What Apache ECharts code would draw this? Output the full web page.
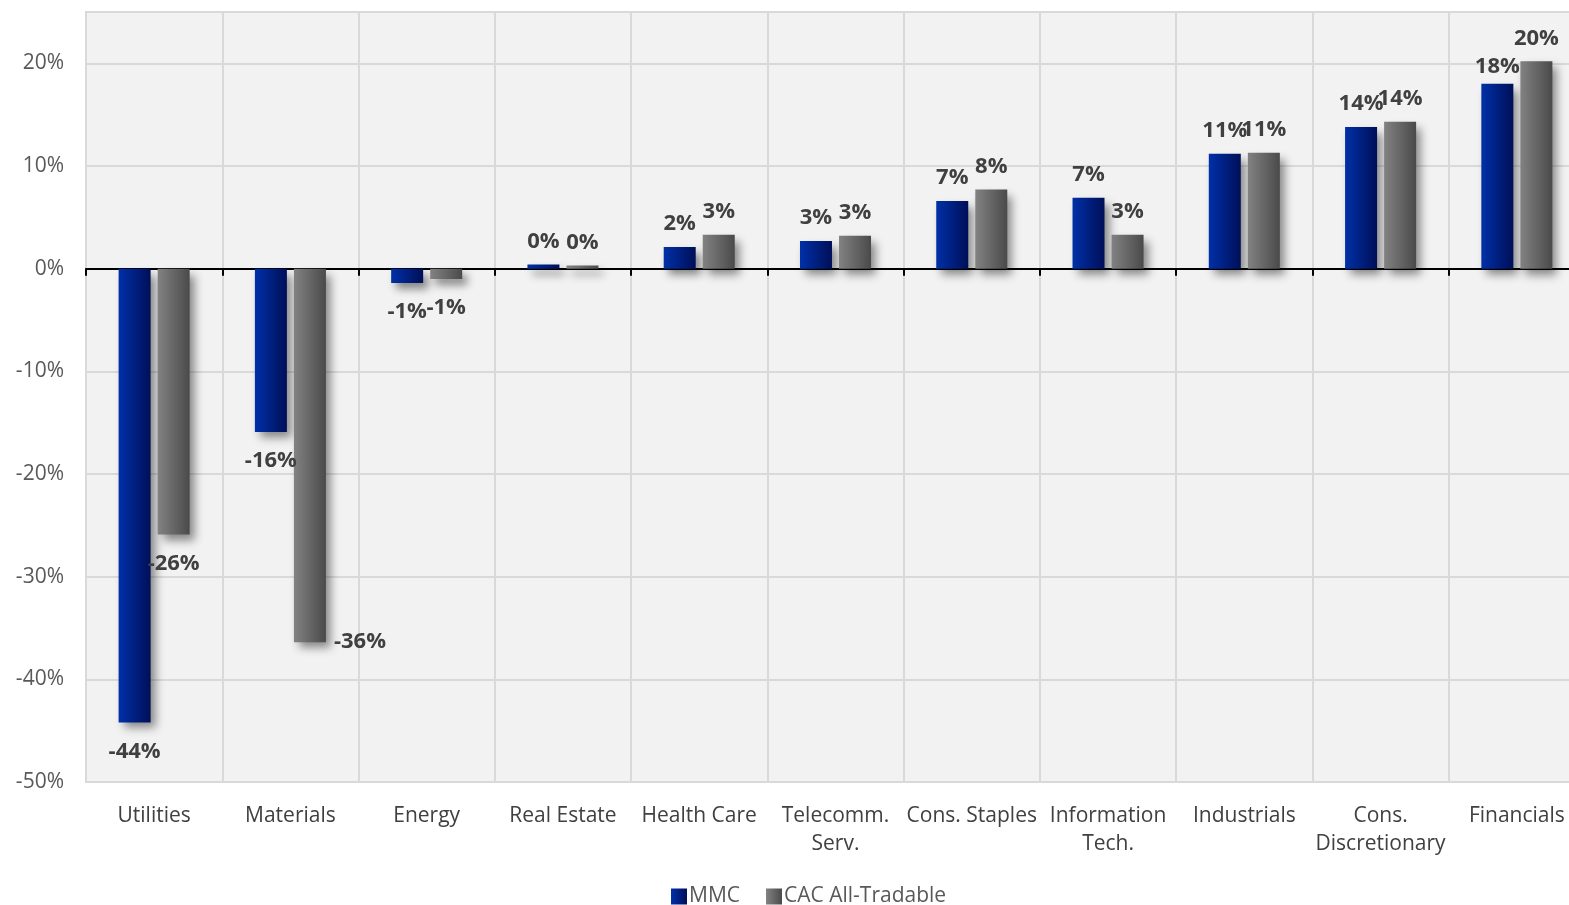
<!DOCTYPE html>
<html>
<head>
<meta charset="utf-8">
<script src="https://cdn.jsdelivr.net/npm/echarts@6/dist/echarts.min.js"></script>
<style>
html,body{margin:0;padding:0;background:#fff;overflow:hidden;width:1569px;height:905px;}
#chart{width:1586px;height:905px;}
</style>
</head>
<body>
<div id="chart"></div>
<script>
const categories = ["Utilities","Materials","Energy","Real Estate","Health Care","Telecomm.\nServ.","Cons. Staples","Information\nTech.","Industrials","Cons.\nDiscretionary","Financials"];
const mmcValues = [-44.2,-15.9,-1.4,0.4,2.1,2.7,6.6,6.9,11.2,13.8,18.0];
const cacValues = [-25.9,-36.4,-1.0,0.3,3.3,3.2,7.7,3.3,11.3,14.3,20.2];
const seriesNames = ["MMC","CAC All-Tradable"];
const yTicks = {min:-50,max:25,interval:10};

const FONT = "'Open Sans', 'Noto Sans', sans-serif";
const chart = echarts.init(document.getElementById('chart'));

function labelFor(v){ return Math.round(v) + '%'; }
function makeData(arr, special){
  return arr.map((v,i)=>{
    const item = {value:v, label:{position: v<0?'bottom':'top', distance: v<0?18:12}};
    if (special && special[i]) Object.assign(item.label, special[i]);
    return item;
  });
}
const mmcGrad = new echarts.graphic.LinearGradient(0,0,1,0,[{offset:0,color:'#0030a8'},{offset:1,color:'#000f58'}]);
const cacGrad = new echarts.graphic.LinearGradient(0,0,1,0,[{offset:0,color:'#828282'},{offset:1,color:'#4a4a4a'}]);
const labelStyle = {show:true, fontFamily:FONT, fontWeight:'bold', fontSize:22, color:'#404040',
  formatter:p=>labelFor(p.value)};
const shadow = {shadowColor:'rgba(0,0,0,0.45)', shadowBlur:9, shadowOffsetX:5, shadowOffsetY:6};

chart.setOption({
  animation:false,
  backgroundColor:'#ffffff',
  textStyle:{fontFamily:FONT},
  grid:{left:86, right:1, top:12, bottom:123, show:true, backgroundColor:'#f2f2f2', borderColor:'#d9d9d9', borderWidth:2},
  legend:{
    left:666, top:881, itemWidth:16, itemHeight:16, itemGap:26,
    textStyle:{fontFamily:FONT, fontSize:21, color:'#595959', padding:[0,0,0,-3]},
    data:[{name:seriesNames[0], icon:'rect'},{name:seriesNames[1], icon:'rect'}]
  },
  xAxis:[
    {type:'category', data:categories, position:'bottom',
     axisLine:{show:false, onZero:false}, axisTick:{show:false},
     axisLabel:{fontFamily:FONT, fontSize:21, color:'#404040', margin:20, lineHeight:28, interval:0},
     splitLine:{show:true, interval:0, lineStyle:{color:'#d9d9d9', width:2}}},
    {type:'category', data:categories, position:'top',
     axisLine:{show:true, onZero:true, lineStyle:{color:'#000', width:2}},
     axisTick:{show:true, inside:true, length:7, interval:0, lineStyle:{color:'#000', width:2}},
     axisLabel:{show:false}, splitLine:{show:false}}
  ],
  yAxis:{type:'value', min:yTicks.min, max:yTicks.max, interval:yTicks.interval,
    axisLine:{show:false}, axisTick:{show:false},
    axisLabel:{fontFamily:FONT, fontSize:21, color:'#595959', margin:22, showMaxLabel:false, formatter:v=>v+'%'},
    splitLine:{lineStyle:{color:'#d9d9d9', width:2}}},
  series:[
    {name:seriesNames[0], type:'bar', xAxisIndex:0, barWidth:32, barGap:'22%',
     itemStyle:Object.assign({color:mmcGrad}, shadow), label:labelStyle,
     data:makeData(mmcValues, {10:{distance:6}}), z:3},
    {name:seriesNames[1], type:'bar', xAxisIndex:0, barWidth:32, barGap:'22%',
     itemStyle:Object.assign({color:cacGrad}, shadow), label:labelStyle,
     data:makeData(cacValues, {1:{position:'bottom', distance:15, offset:[50,-27]}}), z:3}
  ]
});
</script>
</body>
</html>
